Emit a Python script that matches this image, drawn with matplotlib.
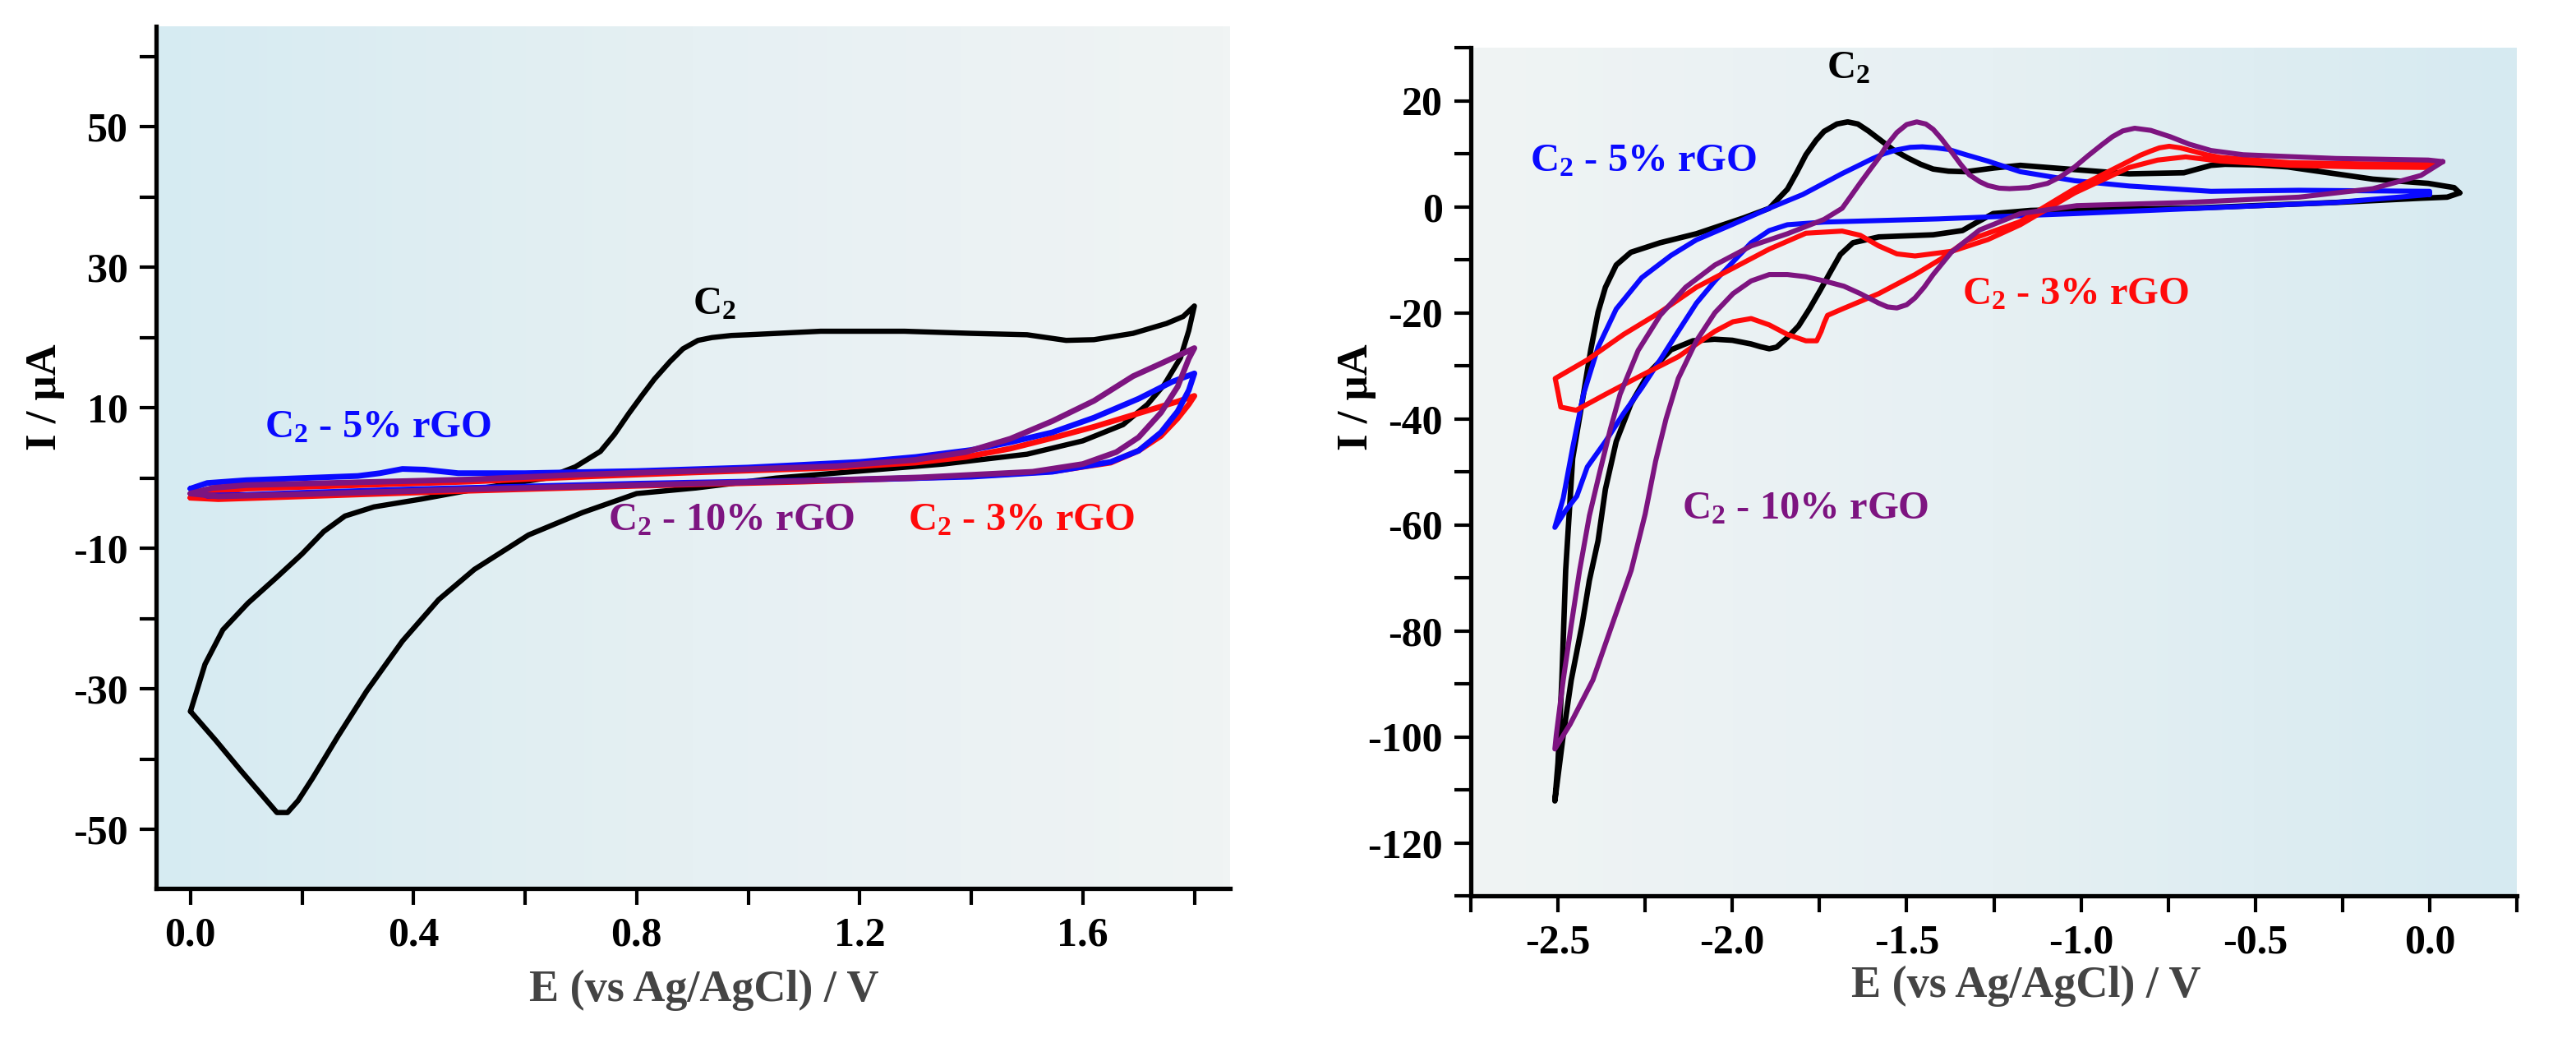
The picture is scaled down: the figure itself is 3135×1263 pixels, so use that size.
import numpy as np
import matplotlib
matplotlib.use("Agg")
import matplotlib.pyplot as plt
from matplotlib.colors import LinearSegmentedColormap

plt.rcParams['font.family'] = ['Liberation Serif', 'DejaVu Serif']
plt.rcParams['font.weight'] = 'bold'
plt.rcParams['axes.labelweight'] = 'bold'
plt.rcParams['axes.unicode_minus'] = False
plt.rcParams['mathtext.fontset'] = 'custom'
plt.rcParams['mathtext.rm'] = 'Liberation Serif:bold'
plt.rcParams['mathtext.bf'] = 'Liberation Serif:bold'
plt.rcParams['mathtext.it'] = 'Liberation Serif:bold'

# ---------------- Left panel data (anodic window) ----------------
left_C2_E = [0.0, 0.026, 0.058, 0.103, 0.155, 0.20, 0.239, 0.277, 0.329, 0.413, 0.509, 0.638, 0.69, 0.735,
             0.76, 0.786, 0.81, 0.832, 0.86, 0.883, 0.91, 0.935, 0.97, 1.0, 1.13, 1.28, 1.40, 1.50, 1.57,
             1.62, 1.69, 1.75, 1.78, 1.80, 1.79,
             1.775, 1.746, 1.716, 1.672, 1.60, 1.50, 1.35, 1.20, 1.05, 0.907, 0.80, 0.703, 0.606, 0.509,
             0.445, 0.38, 0.316, 0.264, 0.219, 0.193, 0.174, 0.155, 0.09, 0.045, 0.0]
left_C2_I = [-33.2, -26.5, -21.6, -17.8, -14.1, -10.8, -7.6, -5.4, -4.1, -3.0, -1.6, 0.0, 1.6, 3.8,
             6.2, 9.2, 11.8, 14.1, 16.6, 18.4, 19.6, 20.0, 20.3, 20.4, 20.9, 20.9, 20.6, 20.4, 19.6,
             19.7, 20.6, 22.0, 23.0, 24.5, 21.0,
             17.1, 13.3, 10.5, 7.6, 5.3, 3.4, 2.0, 1.0, 0.0, -1.4, -2.2, -4.9, -8.1, -13.0,
             -17.3, -23.2, -30.3, -36.8, -42.7, -45.9, -47.6, -47.6, -41.6, -37.3, -33.2]

left_5_E = [0.0, 0.03, 0.1, 0.2, 0.3, 0.34, 0.38, 0.42, 0.48, 0.6, 0.8, 1.0, 1.2, 1.3, 1.4, 1.47, 1.545,
            1.62, 1.70, 1.76, 1.80, 1.79, 1.77, 1.74, 1.70, 1.65, 1.545, 1.4, 1.2, 1.0, 0.8, 0.6, 0.4,
            0.2, 0.1, 0.03, 0.0]
left_5_I = [-1.5, -0.7, -0.3, 0.0, 0.3, 0.7, 1.3, 1.2, 0.7, 0.7, 1.0, 1.5, 2.3, 3.0, 4.0, 5.1, 6.5,
            8.6, 11.3, 13.7, 14.9, 12.5, 9.5, 6.5, 3.9, 2.3, 0.9, 0.2, -0.2, -0.5, -0.8, -1.2, -1.6,
            -2.1, -2.4, -2.5, -1.5]

left_10_E = [0.0, 0.04, 0.1, 0.3, 0.5, 0.7, 0.9, 1.16, 1.3, 1.39, 1.47, 1.545, 1.62, 1.69, 1.74, 1.80,
             1.79, 1.77, 1.74, 1.70, 1.66, 1.60, 1.51, 1.31, 1.1, 0.8, 0.5, 0.2, 0.05, 0.0]
left_10_I = [-2.2, -1.4, -1.0, -0.6, -0.2, 0.5, 1.0, 1.7, 2.6, 3.7, 5.6, 8.1, 11.0, 14.5, 16.3, 18.5,
             17.0, 13.0, 9.3, 5.8, 3.7, 2.0, 0.9, 0.1, -0.4, -1.0, -1.6, -2.3, -2.6, -2.2]

left_3_E = [0.0, 0.04, 0.1, 0.3, 0.5, 0.7, 0.9, 1.16, 1.3, 1.39, 1.47, 1.545, 1.62, 1.72, 1.77, 1.80,
            1.79, 1.77, 1.74, 1.70, 1.65, 1.55, 1.45, 1.3, 1.1, 0.8, 0.5, 0.2, 0.05, 0.0]
left_3_I = [-2.8, -2.0, -1.5, -1.0, -0.5, 0.2, 0.8, 1.5, 2.2, 3.0, 4.2, 5.7, 7.3, 9.7, 10.9, 11.7,
            10.5, 8.5, 6.0, 3.9, 2.2, 1.0, 0.5, 0.0, -0.5, -1.1, -1.8, -2.6, -3.0, -2.8]

# ---------------- Right panel data (cathodic window) ----------------
right_C2_E = [0.086, 0.05, -0.025, -0.269, -0.693, -1.0, -1.144, -1.252, -1.30, -1.34, -1.424, -1.58, -1.654,
              -1.69, -1.716, -1.75, -1.779, -1.81, -1.842, -1.873, -1.894, -1.92, -1.946, -2.0, -2.051,
              -2.113, -2.176, -2.239, -2.291, -2.333, -2.364, -2.385, -2.41, -2.431, -2.462, -2.485, -2.509,
              -2.50, -2.489, -2.478, -2.458, -2.427, -2.406, -2.385, -2.364, -2.333, -2.291, -2.207, -2.103,
              -1.967, -1.894, -1.842, -1.815, -1.789, -1.76, -1.737, -1.70, -1.669, -1.64, -1.61, -1.58,
              -1.54, -1.497, -1.46, -1.424, -1.38, -1.33, -1.25, -1.174, -1.018, -0.862, -0.705, -0.627,
              -0.587, -0.5, -0.407, -0.269, -0.163, -0.004, 0.07, 0.086]
right_C2_I = [2.6, 1.8, 1.6, 0.8, -0.3, -0.5, -0.7, -1.3, -3.0, -4.5, -5.3, -5.7, -6.8,
              -9.0, -12.0, -16.0, -19.3, -22.5, -24.7, -26.5, -26.8, -26.4, -25.9, -25.2, -25.0,
              -25.3, -27.0, -31.3, -37.2, -44.3, -53.3, -63.0, -70.5, -78.9, -89.3, -99.7, -112.1,
              -104.9, -89.3, -68.6, -47.5, -35.4, -27.0, -19.9, -15.2, -11.0, -8.6, -6.8, -5.1,
              -2.1, -0.3, 3.3, 6.5, 9.8, 12.5, 14.2, 15.6, 16.0, 15.6, 14.3, 12.8,
              10.8, 9.2, 8.0, 7.1, 6.7, 6.6, 7.3, 7.8, 7.0, 6.2, 6.4, 7.8,
              8.0, 7.9, 7.5, 6.2, 5.2, 4.4, 3.6, 2.6]

right_5_E = [0.0, -0.269, -0.627, -1.018, -1.408, -1.737, -1.842, -1.894, -1.946, -1.998, -2.05, -2.103,
             -2.155, -2.207, -2.26, -2.312, -2.364, -2.416, -2.446, -2.48, -2.509, -2.485, -2.458, -2.427,
             -2.385, -2.333, -2.26, -2.176, -2.103, -1.998, -1.894, -1.798, -1.685, -1.64, -1.60, -1.565,
             -1.53, -1.49, -1.455, -1.415, -1.38, -1.33, -1.267, -1.174, -1.018, -0.862, -0.627, -0.375,
             0.0, 0.0]
right_5_I = [2.3, 0.8, -0.2, -1.3, -2.3, -2.9, -3.4, -4.5, -6.8, -10.4, -14.0, -18.2,
             -23.5, -28.9, -34.2, -39.0, -44.3, -49.1, -54.6, -57.5, -60.5, -55.0, -45.5, -35.4,
             -26.5, -19.3, -13.4, -9.2, -6.25, -3.3, -0.3, 2.3, 6.25, 7.7, 9.0, 10.0,
             10.7, 11.2, 11.3, 11.1, 10.8, 9.8, 8.6, 6.6, 4.9, 3.9, 2.9, 3.1,
             2.9, 2.3]

right_10_E = [0.038, -0.025, -0.163, -0.375, -0.693, -1.012, -1.174, -1.291, -1.372, -1.424, -1.45, -1.476,
              -1.50, -1.528, -1.555, -1.58, -1.633, -1.68, -1.737, -1.79, -1.842, -1.894, -1.946, -1.998,
              -2.05, -2.103, -2.155, -2.19, -2.22, -2.25, -2.29, -2.345, -2.40, -2.465, -2.509, -2.505,
              -2.485, -2.462, -2.438, -2.41, -2.38, -2.35, -2.322, -2.27, -2.207, -2.134, -2.05, -1.946,
              -1.842, -1.737, -1.685, -1.66, -1.633, -1.605, -1.58, -1.555, -1.528, -1.50, -1.471, -1.445,
              -1.424, -1.40, -1.372, -1.345, -1.32, -1.29, -1.267, -1.235, -1.205, -1.15, -1.096, -1.06,
              -1.018, -0.98, -0.94, -0.91, -0.88, -0.846, -0.80, -0.744, -0.69, -0.627, -0.535, -0.269,
              -0.004, 0.038]
right_10_I = [8.5, 5.9, 3.4, 1.8, 0.8, 0.2, -1.3, -4.4, -8.6, -12.8, -15.2, -17.2,
              -18.5, -19.1, -18.9, -18.2, -16.4, -15.0, -14.0, -13.2, -12.8, -12.8, -14.0, -16.4,
              -20.0, -25.3, -32.4, -40.0, -48.0, -58.0, -68.6, -78.9, -89.3, -97.6, -102.3, -99.7,
              -89.3, -78.9, -68.6, -58.3, -50.0, -42.0, -35.4, -27.1, -20.5, -15.2, -11.0, -7.4,
              -5.1, -2.4, -0.3, 2.0, 4.5, 7.0, 9.2, 11.8, 14.0, 15.5, 16.0, 15.6,
              14.6, 12.8, 10.4, 8.0, 6.0, 4.7, 4.0, 3.5, 3.4, 3.6, 4.4, 5.6,
              7.5, 9.6, 11.7, 13.2, 14.3, 14.8, 14.4, 13.2, 11.8, 10.6, 9.8, 9.1,
              8.8, 8.5]

right_3_E = [0.02, 0.0, -0.2, -0.4, -0.6, -0.7, -0.78, -0.862, -1.018, -1.174, -1.267, -1.37, -1.476,
             -1.528, -1.58, -1.633, -1.685, -1.789, -1.894, -1.998, -2.103, -2.207, -2.312, -2.416, -2.508,
             -2.50, -2.492, -2.448, -2.364, -2.26, -2.155, -2.05, -1.998, -1.946, -1.894, -1.842, -1.789,
             -1.758, -1.745, -1.737, -1.727, -1.685, -1.58, -1.476, -1.40, -1.33, -1.174, -1.018, -0.862,
             -0.83, -0.80, -0.775, -0.747, -0.715, -0.68, -0.64, -0.6, -0.4, -0.2, 0.02]
right_3_I = [8.0, 7.4, 7.5, 7.8, 8.6, 9.4, 8.8, 7.4, 2.6, -3.4, -6.2, -8.4, -9.3,
             -8.9, -7.4, -5.4, -4.6, -5.0, -8.0, -11.6, -15.2, -19.9, -24.1, -28.9, -32.4,
             -35.0, -37.8, -38.4, -35.4, -31.8, -28.3, -23.5, -21.7, -21.1, -22.3, -24.1, -25.3,
             -25.3, -23.5, -22.0, -20.5, -19.3, -16.4, -12.8, -9.8, -6.5, -2.8, 3.4, 8.6,
             9.7, 10.5, 11.1, 11.4, 11.1, 10.5, 9.8, 9.3, 8.3, 8.1, 8.0]

# ---------------- ticks / labels ----------------
left_xticks = [0.0, 0.4, 0.8, 1.2, 1.6]
left_xticklabels = ["0.0", "0.4", "0.8", "1.2", "1.6"]
left_xminor = [0.2, 0.6, 1.0, 1.4, 1.8]
left_yticks = [-50, -30, -10, 10, 30, 50]
left_yticklabels = ["-50", "-30", "-10", "10", "30", "50"]
left_yminor = [-40, -20, 0, 20, 40, 60]

right_xticks = [-2.5, -2.0, -1.5, -1.0, -0.5, 0.0]
right_xticklabels = ["-2.5", "-2.0", "-1.5", "-1.0", "-0.5", "0.0"]
right_xminor = [-2.75, -2.25, -1.75, -1.25, -0.75, -0.25, 0.25]
right_yticks = [-120, -100, -80, -60, -40, -20, 0, 20]
right_yticklabels = ["-120", "-100", "-80", "-60", "-40", "-20", "0", "20"]
right_yminor = [-130, -110, -90, -70, -50, -30, -10, 10, 30]

xlabel_text = "E (vs Ag/AgCl) / V"
ylabel_text = "I / μA"
C2 = r"C$_\mathbf{2}$"

COL_BLACK = "#000000"
COL_BLUE = "#0a0aff"
COL_RED = "#ff0a0a"
COL_PURPLE = "#7d1480"

W, H = 3135, 1263
fig = plt.figure(figsize=(W / 100, H / 100), dpi=100)
fig.patch.set_facecolor("white")

axL = fig.add_axes([190 / W, 1 - 1081 / H, (1497 - 190) / W, (1081 - 32) / H])
axR = fig.add_axes([1790 / W, 1 - 1090 / H, (3063 - 1790) / W, (1090 - 58) / H])

cmapL = LinearSegmentedColormap.from_list("gL", ["#d6ebf2", "#e6f0f3", "#f0f4f4"])
cmapR = LinearSegmentedColormap.from_list("gR", ["#f0f4f4", "#e6f0f3", "#d6eaf1"])
grad = np.linspace(0, 1, 256).reshape(1, -1)

for ax, cm in ((axL, cmapL), (axR, cmapR)):
    ax.imshow(grad, extent=[0, 1, 0, 1], transform=ax.transAxes, cmap=cm,
              aspect="auto", zorder=0, interpolation="bilinear")
    for s in ("top", "right"):
        ax.spines[s].set_visible(False)
    for s in ("left", "bottom"):
        ax.spines[s].set_linewidth(3.8)
        ax.spines[s].set_color("black")
    ax.tick_params(which="both", direction="out", length=14.5, width=3.0,
                   labelsize=36, pad=10, colors="black")

kw = dict(solid_joinstyle="round", solid_capstyle="round")
# Left panel curves
axL.plot(left_C2_E, left_C2_I, color=COL_BLACK, lw=4.6, zorder=3, **kw)
axL.plot(left_3_E, left_3_I, color=COL_RED, lw=5.0, zorder=4, **kw)
axL.plot(left_5_E, left_5_I, color=COL_BLUE, lw=5.0, zorder=5, **kw)
axL.plot(left_10_E, left_10_I, color=COL_PURPLE, lw=5.0, zorder=6, **kw)

axL.set_xlim(-0.0616, 1.864)
axL.set_ylim(-58.4, 64.3)
axL.set_xticks(left_xticks)
axL.set_xticklabels(left_xticklabels)
axL.set_xticks(left_xminor, minor=True)
axL.set_yticks(left_yticks)
axL.set_yticklabels(left_yticklabels)
axL.set_yticks(left_yminor, minor=True)

ann_fs = 35
axL.text(0.94, 24.7, C2, color=COL_BLACK, fontsize=ann_fs, ha="center", va="center", zorder=7)
axL.text(0.336, 7.2, C2 + " - 5% rGO", color=COL_BLUE, fontsize=ann_fs, ha="center", va="center", zorder=7)
axL.text(0.97, -6.1, C2 + " - 10% rGO", color=COL_PURPLE, fontsize=ann_fs, ha="center", va="center", zorder=7)
axL.text(1.49, -6.1, C2 + " - 3% rGO", color=COL_RED, fontsize=ann_fs, ha="center", va="center", zorder=7)

# Right panel curves
axR.plot(right_C2_E, right_C2_I, color=COL_BLACK, lw=4.8, zorder=3, **kw)
axR.plot(right_5_E, right_5_I, color=COL_BLUE, lw=4.4, zorder=4, **kw)
axR.plot(right_3_E, right_3_I, color=COL_RED, lw=4.4, zorder=5, **kw)
axR.plot(right_10_E, right_10_I, color=COL_PURPLE, lw=4.4, zorder=6, **kw)

axR.set_xlim(-2.75, 0.25)
axR.set_ylim(-130, 30)
axR.set_xticks(right_xticks)
axR.set_xticklabels(right_xticklabels)
axR.set_xticks(right_xminor, minor=True)
axR.set_yticks(right_yticks)
axR.set_yticklabels(right_yticklabels)
axR.set_yticks(right_yminor, minor=True)

axR.text(-1.666, 26.0, C2, color=COL_BLACK, fontsize=ann_fs, ha="center", va="center", zorder=7)
axR.text(-2.256, 8.5, C2 + " - 5% rGO", color=COL_BLUE, fontsize=ann_fs, ha="center", va="center", zorder=7)
axR.text(-1.015, -16.5, C2 + " - 3% rGO", color=COL_RED, fontsize=ann_fs, ha="center", va="center", zorder=7)
axR.text(-1.79, -57.0, C2 + " - 10% rGO", color=COL_PURPLE, fontsize=ann_fs, ha="center", va="center", zorder=7)

# Axis labels
axL.set_xlabel(xlabel_text, fontsize=39, color="#444444", fontweight="bold", va="center")
axL.xaxis.set_label_coords(0.51, -0.118)
axL.set_ylabel(ylabel_text, fontsize=38, color="black", fontweight="bold", va="center", ha="center")
axL.yaxis.set_label_coords(-0.103, 0.57)

axR.set_xlabel(xlabel_text, fontsize=39, color="#444444", fontweight="bold", va="center")
axR.xaxis.set_label_coords(0.531, -0.106)
axR.set_ylabel(ylabel_text, fontsize=38, color="black", fontweight="bold", va="center", ha="center")
axR.yaxis.set_label_coords(-0.109, 0.588)

fig.savefig("out.png", dpi=100, facecolor="white")
